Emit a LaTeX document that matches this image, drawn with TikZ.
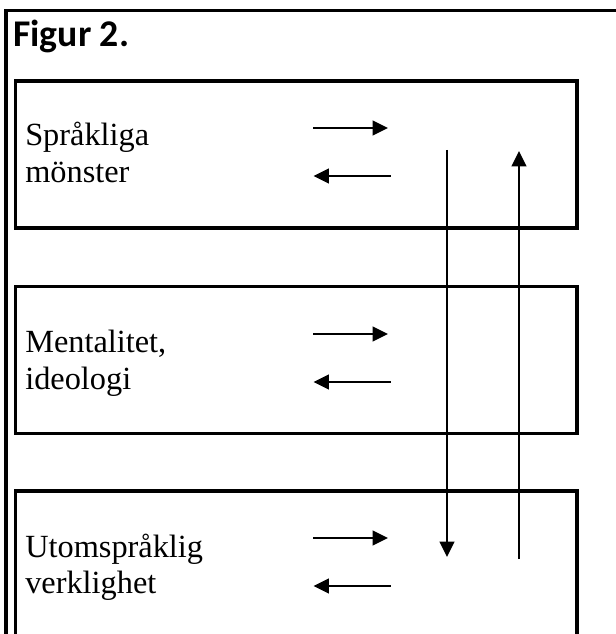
\documentclass[tikz,border=0pt]{standalone}
\usepackage{fontspec}
\setmainfont{Liberation Serif}
\newfontfamily\headfont{Carlito}
\usetikzlibrary{arrows.meta,positioning}
\tikzset{
  >={Triangle[length=11.5pt,width=11pt]},
  frame/.style={line width=2.4pt},
  panel/.style={draw, line width=2.4pt, minimum width=421.1pt, minimum height=110.25pt, inner sep=0pt, outer sep=0pt},
  txt/.style={anchor=base west, inner sep=0pt, font=\fontsize{24.25pt}{28pt}\selectfont},
  head/.style={anchor=base west, inner sep=0pt, font=\headfont\bfseries\fontsize{28.3pt}{32pt}\selectfont},
  flow/.style={->, line width=1.6pt}
}

\begin{document}
\begin{tikzpicture}[x=0.75pt, y=-0.75pt]
	% picture area (frame runs off the page on two sides)
	\clip (0,0) rectangle (616,634);
	\draw[frame] (6,660) -- (6,10.7) -- (640,10.7);

	\node[head] (title) at (13,47) {Figur 2.};

	% the three levels
	\node[panel] (sprak) at (296.25,154.5) {};
	\node[panel] (ment) at (296.25,360) {};
	\node[panel] (utom) at (296.25,564.5) {};

	% Add labels
	\node[txt] (sprakA) at (25,145.5) {Språkliga};
	\node[txt] (sprakB) at (25,182.5) {mönster};
	\node[txt] (mentA) at (25,352.5) {Mentalitet,};
	\node[txt] (mentB) at (25,389) {ideologi};
	\node[txt] (utomA) at (25,557) {Utomspråklig};
	\node[txt] (utomB) at (25,593.5) {verklighet};

	% arrows inside each box
	\foreach \b/\t in {sprak/81, ment/287, utom/491} {
		\coordinate (\b-ra) at (313,\t+47);
		\coordinate (\b-rb) at (388,\t+47);
		\coordinate (\b-la) at (390.5,\t+95);
		\coordinate (\b-lb) at (313.5,\t+95);
		\draw[flow] (\b-ra) -- (\b-rb);
		\draw[flow] (\b-la) -- (\b-lb);
	}

	% long arrows down and up
	\coordinate (downA) at (447,150);
	\coordinate (downB) at (447,557);
	\coordinate (upA) at (519,559);
	\coordinate (upB) at (519,151);
	\draw[flow] (downA) -- (downB);
	\draw[flow] (upA) -- (upB);
\end{tikzpicture}
\end{document}
